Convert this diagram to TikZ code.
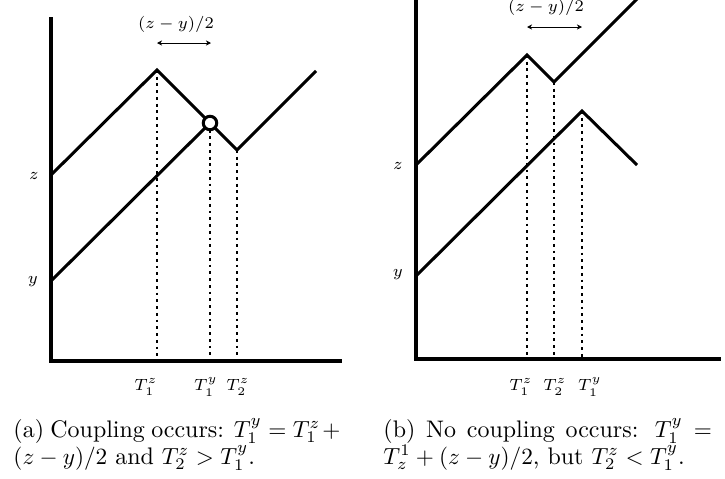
\documentclass[tikz,border=0pt]{standalone}
\usetikzlibrary{arrows.meta}
\begin{document}
\begin{tikzpicture}[x=0.43pt,y=-0.43pt,
  axisline/.style={line width=1.4pt},
  walk/.style={line width=1.3pt,line join=miter},
  dotline/.style={line width=1.2pt,dash pattern=on 1.2pt off 1.7pt},
  gaparrow/.style={line width=0.4pt,{Stealth[length=2.2pt,width=2.2pt]}-{Stealth[length=2.2pt,width=2.2pt]}},
  lab/.style={font=\scriptsize,inner sep=0pt},
  captext/.style={inner sep=0pt,anchor=base west,font=\fontsize{10.3}{11.6}\selectfont}]
\useasboundingbox (0,0) rectangle (725,478);
\clip (0,0) rectangle (725,478);
% ---------------- panel (a)
\coordinate (aO) at (51,361);
\coordinate (aTop) at (51,17);
\coordinate (aRight) at (342,361);
\draw[axisline] (aTop) -- (aO) -- (aRight);
\coordinate (aZ0) at (51,175);
\coordinate (aP1) at (157,70);
\coordinate (aD1) at (237,150);
\coordinate (aE) at (316,71);
\coordinate (aY0) at (51,281);
\coordinate (aC) at (210,123);
\draw[walk] (aZ0) -- (aP1) -- (aD1) -- (aE);
\draw[walk] (aY0) -- (aC);
\coordinate (aB1) at (157,361);
\coordinate (aB2) at (210,361);
\coordinate (aB3) at (237,361);
\draw[dotline] (aP1) -- (aB1);
\draw[dotline] (aC) -- (aB2);
\draw[dotline] (aD1) -- (aB3);
\node[circle,draw,fill=white,line width=1.3pt,minimum size=5.8pt,inner sep=0pt] (aCirc) at (aC) {};
\coordinate (aA1) at (157,43);
\coordinate (aA2) at (211,43);
\draw[gaparrow] (aA1) -- (aA2);
\node[lab] (aGap) at (176,24) {$(z-y)/2$};
\node[lab] (aZ) at (34,176) {$z$};
\node[lab] (aY) at (33,282) {$y$};
\node[lab] (aT1) at (146,387) {$T_1^z$};
\node[lab] (aT2) at (206,387) {$T_1^y$};
\node[lab] (aT3) at (238,387) {$T_2^z$};
% ---------------- panel (b)
\coordinate (bO) at (416,359);
\coordinate (bTop) at (416,-5);
\coordinate (bRight) at (721,359);
\draw[axisline] (bTop) -- (bO) -- (bRight);
\coordinate (bZ0) at (416,165);
\coordinate (bP1) at (527,55);
\coordinate (bD1) at (554,82);
\coordinate (bE) at (645,-9);
\coordinate (bY0) at (416,276);
\coordinate (bP2) at (582,111);
\coordinate (bE2) at (637,165);
\draw[walk] (bZ0) -- (bP1) -- (bD1) -- (bE);
\draw[walk] (bY0) -- (bP2) -- (bE2);
\coordinate (bB1) at (527,359);
\coordinate (bB2) at (554,359);
\coordinate (bB3) at (582,359);
\draw[dotline] (bP1) -- (bB1);
\draw[dotline] (bD1) -- (bB2);
\draw[dotline] (bP2) -- (bB3);
\coordinate (bA1) at (527,27);
\coordinate (bA2) at (582,27);
\draw[gaparrow] (bA1) -- (bA2);
\node[lab] (bGap) at (546,7) {$(z-y)/2$};
\node[lab] (bZ) at (398,166) {$z$};
\node[lab] (bY) at (398,275) {$y$};
\node[lab] (bT1) at (521,387) {$T_1^z$};
\node[lab] (bT2) at (555,387) {$T_2^z$};
\node[lab] (bT3) at (590,387) {$T_1^y$};
% ---------------- captions
\node[captext] (capA1) at (13,437) {\makebox[141.5pt][s]{(a) Coupling occurs: $T_1^y = T_1^z +{}$}};
\node[captext] (capA2) at (13,464) {$(z-y)/2$ and $T_2^z > T_1^y$.};
\node[captext] (capB1) at (383,437) {\makebox[146pt][s]{(b) No coupling occurs: $T_1^y ={}$}};
\node[captext] (capB2) at (383,464) {$T_z^1 + (z-y)/2$, but $T_2^z < T_1^y$.};
\end{tikzpicture}
\end{document}
